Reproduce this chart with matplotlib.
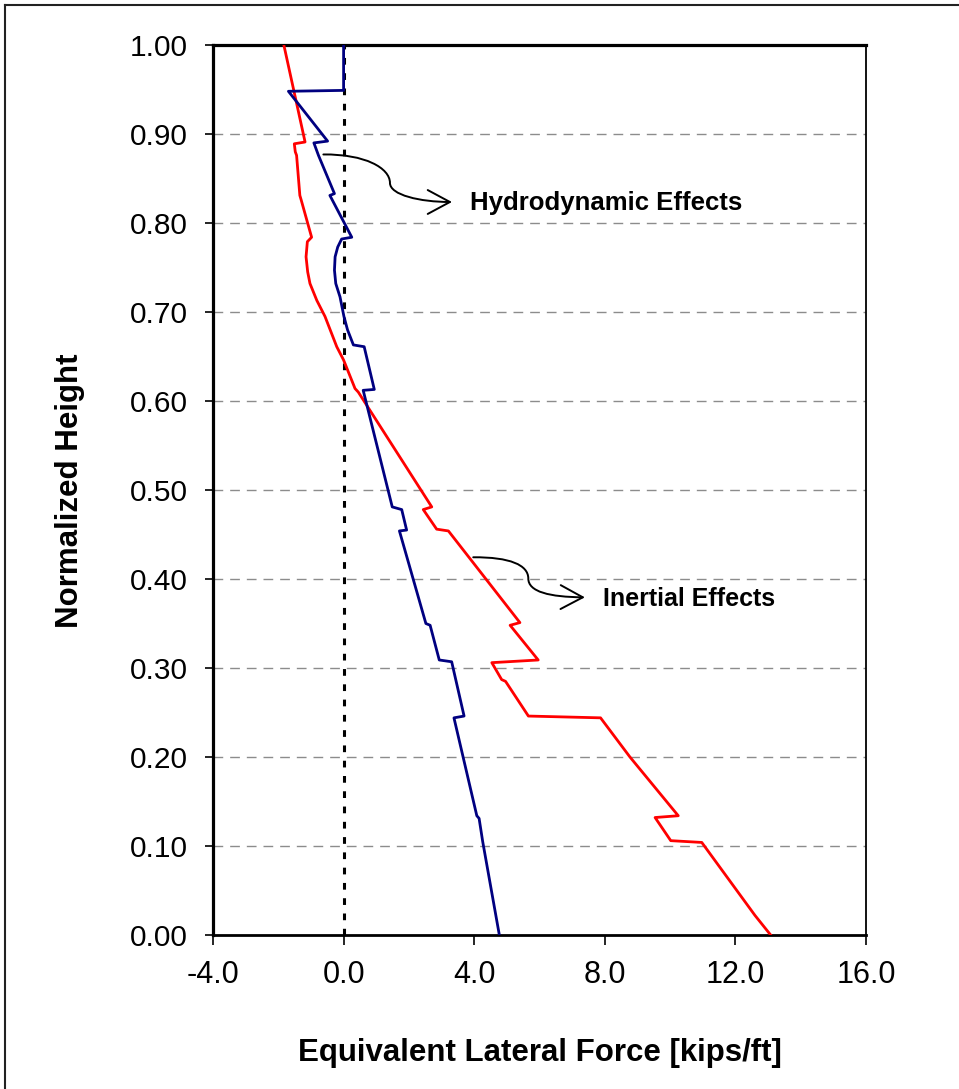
import matplotlib; matplotlib.use('agg')
import matplotlib.pyplot as plt
from matplotlib.patches import FancyArrowPatch
from matplotlib.path import Path
from matplotlib.lines import Line2D
from matplotlib.ticker import FormatStrFormatter

plt.rcParams['font.family'] = ['Liberation Sans', 'DejaVu Sans']
plt.rcParams['axes.unicode_minus'] = False

# hydrodynamic effects (blue), top to bottom
hydro_force = [0.0, 0.0, -1.69, -0.49, -0.91, -0.77, -0.28, -0.42, 0.25, -0.06,
               -0.18, -0.26, -0.28, -0.24, -0.11, 0.01, 0.12, 0.30, 0.63, 0.94,
               0.60, 1.49, 1.78, 1.93, 1.71, 2.52, 2.65, 2.93, 3.31, 3.69,
               3.38, 4.08, 4.15, 4.26, 4.77]
hydro_height = [1.0, 0.949, 0.948, 0.892, 0.890, 0.876, 0.833, 0.831, 0.784, 0.782,
                0.773, 0.762, 0.747, 0.732, 0.717, 0.695, 0.680, 0.663, 0.661, 0.613,
                0.612, 0.481, 0.478, 0.455, 0.454, 0.350, 0.348, 0.309, 0.307, 0.246,
                0.244, 0.134, 0.131, 0.105, 0.0]

# inertial effects (red), top to bottom
inert_force = [-1.83, -1.18, -1.51, -1.48, -1.44, -1.34, -1.30, -0.98, -1.11, -1.15,
               -1.10, -1.03, -0.82, -0.57, -0.21, 0.0, 0.35, 0.45, 2.70, 2.44,
               2.85, 3.21, 5.40, 5.10, 5.96, 4.54, 4.84, 4.96, 5.66, 7.87,
               8.77, 10.25, 9.54, 10.02, 10.97, 12.60, 13.08]
inert_height = [1.0, 0.891, 0.889, 0.880, 0.876, 0.831, 0.826, 0.784, 0.779, 0.762,
                0.745, 0.732, 0.713, 0.695, 0.661, 0.646, 0.614, 0.610, 0.481, 0.478,
                0.456, 0.454, 0.351, 0.348, 0.309, 0.306, 0.287, 0.285, 0.246, 0.244,
                0.200, 0.134, 0.132, 0.106, 0.104, 0.022, 0.0]

x_ticks = [-4, 0, 4, 8, 12, 16]
y_ticks = [0.0, 0.1, 0.2, 0.3, 0.4, 0.5, 0.6, 0.7, 0.8, 0.9, 1.0]

fig = plt.figure(figsize=(9.59, 10.89), dpi=100)
ax = fig.add_axes([213/959, 1-935/1089, 653/959, 890/1089])

for y in y_ticks[1:-1]:
    ax.axhline(y, color='#8c8c8c', lw=1.0, dashes=(7, 5), zorder=1)

ax.plot([0, 0], [0, 1], color='black', lw=2.2, dashes=(2.2, 2.8), zorder=2)
ax.plot(inert_force, inert_height, color='#ff0000', lw=2.0, zorder=3)
ax.plot(hydro_force, hydro_height, color='#000080', lw=2.0, zorder=4)

ax.set_xlim(-4, 16)
ax.set_ylim(0, 1)
ax.set_xticks(x_ticks)
ax.set_yticks(y_ticks)
ax.xaxis.set_major_formatter(FormatStrFormatter('%.1f'))
ax.yaxis.set_major_formatter(FormatStrFormatter('%.2f'))
ax.tick_params(axis='y', direction='out', length=6, width=1.2, pad=12, labelsize=21.5)
ax.tick_params(axis='x', direction='out', length=7, width=1.2, pad=11, labelsize=22)

ax.spines['left'].set_linewidth(2.3)
ax.spines['top'].set_linewidth(2.3)
ax.spines['bottom'].set_linewidth(2.0)
ax.spines['right'].set_linewidth(1.3)

fig.text(70/959, 1-491/1089, 'Normalized Height', rotation=90, ha='center',
         va='center', fontsize=22.5, fontweight='bold')
fig.text(540/959, 1-1053/1089, 'Equivalent Lateral Force [kips/ft]', ha='center',
         va='center', fontsize=22.5, fontweight='bold')

# curved callout arrows
def callout(pts):
    codes = [Path.MOVETO, Path.CURVE4, Path.CURVE4, Path.CURVE4,
             Path.CURVE4, Path.CURVE4, Path.CURVE4]
    arr = FancyArrowPatch(path=Path(pts, codes), transform=ax.transData,
                          arrowstyle='->,head_length=0.8,head_width=0.43',
                          mutation_scale=20, color='black', lw=1.4, zorder=5)
    ax.add_patch(arr)

callout([(-0.62, 0.877), (0.655, 0.8775), (1.42, 0.8618), (1.42, 0.845),
         (1.42, 0.8315), (2.34, 0.8236), (3.32, 0.8236)])
callout([(3.97, 0.4244), (5.10, 0.4247), (5.65, 0.4157), (5.657, 0.4008),
         (5.65, 0.3854), (6.32, 0.3798), (7.39, 0.3794)])

ax.text(3.87, 0.822, 'Hydrodynamic Effects', fontsize=18.5, fontweight='bold',
        va='center', ha='left', zorder=6)
ax.text(7.95, 0.378, 'Inertial Effects', fontsize=18, fontweight='bold',
        va='center', ha='left', zorder=6)

# outer frame (left and top edges visible)
fig.add_artist(Line2D([5/959, 5/959], [0, 1-5/1089], transform=fig.transFigure,
                      color='#222222', lw=1.5))
fig.add_artist(Line2D([5/959, 1], [1-5/1089, 1-5/1089], transform=fig.transFigure,
                      color='#222222', lw=1.5))

fig.savefig('out.png', dpi=100)
